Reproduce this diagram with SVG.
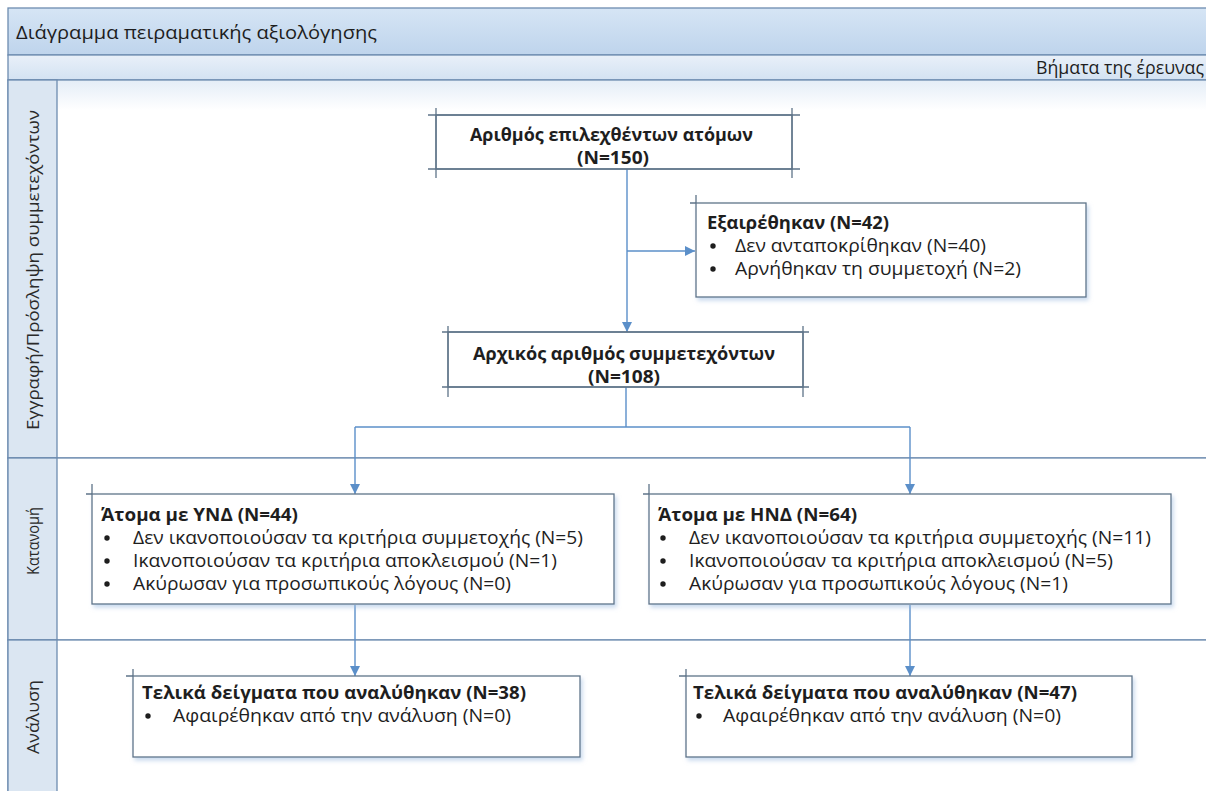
<svg xmlns="http://www.w3.org/2000/svg" width="1206" height="791" viewBox="0 0 1206 791">
<style>
.frame{stroke:#6d8cb0;stroke-width:1.3;}
.lanecol{fill:#dbe6f2;stroke:#6d8cb0;stroke-width:1.3;}
.box{fill:#ffffff;stroke:#5f7489;stroke-width:1.3;}
.tick{stroke:#5f7489;stroke-width:1.3;fill:none;}
.conn{stroke:#5b8fc9;stroke-width:1.4;fill:none;}
.t{font-family:"Open Sans","Liberation Sans",Arial,sans-serif;fill:#1e1e1e;font-size:18px;}
.b{font-weight:bold;}
.dot{fill:#1e1e1e;}
.lbl{font-family:"Open Sans","Liberation Sans",Arial,sans-serif;fill:#2a2a2a;font-size:17px;text-anchor:middle;}
</style>
<defs>
<linearGradient id="gTitle" x1="0" y1="0" x2="0" y2="1">
<stop offset="0" stop-color="#d6e5f5"/><stop offset="1" stop-color="#bed4ec"/>
</linearGradient>
<linearGradient id="gSub" x1="0" y1="0" x2="0" y2="1">
<stop offset="0" stop-color="#e9f0f9"/><stop offset="1" stop-color="#d3e2f2"/>
</linearGradient>
<linearGradient id="gLane" x1="0" y1="0" x2="0" y2="1">
<stop offset="0" stop-color="#e4edf7"/><stop offset="0.08" stop-color="#ffffff"/><stop offset="1" stop-color="#ffffff"/>
</linearGradient>
<filter id="sh" x="-5%" y="-10%" width="112%" height="130%">
<feDropShadow dx="2" dy="3" stdDeviation="2" flood-color="#9dbbe0" flood-opacity="0.55"/>
</filter>
<marker id="arr" viewBox="0 0 10 10" refX="10" refY="5" markerWidth="10" markerHeight="10" markerUnits="userSpaceOnUse" orient="auto">
<path d="M0,0 L10,5 L0,10 z" fill="#5b8fc9"/>
</marker>
</defs>

<g id="pool">
<rect x="8" y="8" width="1210" height="47" fill="url(#gTitle)" class="frame"/>
<text class="t" x="16" y="39" font-size="22" textLength="361" lengthAdjust="spacingAndGlyphs">Διάγραμμα πειραματικής αξιολόγησης</text>
<rect x="8" y="55" width="1210" height="25" fill="url(#gSub)" class="frame"/>
<text class="t" x="1204" y="74" font-size="17" text-anchor="end" textLength="168" lengthAdjust="spacingAndGlyphs">Βήματα της έρευνας</text>
</g>

<g id="lane-1">
<rect x="8" y="80" width="1210" height="378" fill="url(#gLane)" class="frame"/>
<rect x="8" y="80" width="49" height="378" class="lanecol"/>
<text class="lbl" transform="translate(39,270) rotate(-90)" textLength="320" lengthAdjust="spacingAndGlyphs">Εγγραφή/Πρόσληψη συμμετεχόντων</text>
</g>
<g id="lane-2">
<rect x="8" y="458" width="1210" height="182" fill="#ffffff" class="frame"/>
<rect x="8" y="458" width="49" height="182" class="lanecol"/>
<text class="lbl" transform="translate(39,541) rotate(-90)" font-size="18" textLength="68" lengthAdjust="spacingAndGlyphs">Κατανομή</text>
</g>
<g id="lane-3">
<rect x="8" y="640" width="1210" height="160" fill="#ffffff" class="frame"/>
<rect x="8" y="640" width="49" height="160" class="lanecol"/>
<text class="lbl" transform="translate(39,717) rotate(-90)" font-size="18" textLength="74" lengthAdjust="spacingAndGlyphs">Ανάλυση</text>
</g>

<g id="connectors">
<line class="conn" x1="627" y1="169" x2="627" y2="332" marker-end="url(#arr)"/>
<line class="conn" x1="627" y1="251" x2="695" y2="251" marker-end="url(#arr)"/>
<polyline class="conn" points="626,387 626,427"/>
<line class="conn" x1="355" y1="427" x2="910" y2="427"/>
<line class="conn" x1="355" y1="427" x2="355" y2="494" marker-end="url(#arr)"/>
<line class="conn" x1="910" y1="427" x2="910" y2="494" marker-end="url(#arr)"/>
<line class="conn" x1="355" y1="605" x2="355" y2="676" marker-end="url(#arr)"/>
<line class="conn" x1="910" y1="605" x2="910" y2="676" marker-end="url(#arr)"/>
</g>

<g id="n-selected">
<rect class="box" x="436" y="115" width="356" height="54"/>
<path class="tick" d="M428,115 H800 M428,169 H800 M436,108 V178 M792,108 V178"/>
<text class="t b" x="611.5" y="141" text-anchor="middle" textLength="283" lengthAdjust="spacingAndGlyphs">Αριθμός επιλεχθέντων ατόμων</text>
<text class="t b" x="613" y="164" text-anchor="middle" textLength="72" lengthAdjust="spacingAndGlyphs">(N=150)</text>
</g>

<g id="n-excluded">
<rect class="box" x="696" y="203" width="390" height="94" filter="url(#sh)"/>
<path class="tick" d="M690,203 H696 M696,195 V203"/>
<text class="t b" x="707" y="229" textLength="182" lengthAdjust="spacingAndGlyphs">Εξαιρέθηκαν (N=42)</text>
<circle class="dot" cx="713" cy="246" r="2.7"/>
<text class="t" x="735" y="252" textLength="251" lengthAdjust="spacingAndGlyphs">Δεν ανταποκρίθηκαν (N=40)</text>
<circle class="dot" cx="713" cy="269" r="2.7"/>
<text class="t" x="735" y="275" textLength="286" lengthAdjust="spacingAndGlyphs">Αρνήθηκαν τη συμμετοχή (N=2)</text>
</g>

<g id="n-initial">
<rect class="box" x="448" y="332" width="355" height="55"/>
<path class="tick" d="M442,332 H809 M442,387 H809 M448,326 V397 M803,326 V397"/>
<text class="t b" x="624" y="360" text-anchor="middle" textLength="302" lengthAdjust="spacingAndGlyphs">Αρχικός αριθμός συμμετεχόντων</text>
<text class="t b" x="624" y="383" text-anchor="middle" textLength="72" lengthAdjust="spacingAndGlyphs">(N=108)</text>
</g>

<g id="n-ynd">
<rect class="box" x="92" y="494" width="522" height="110" filter="url(#sh)"/>
<path class="tick" d="M86,494 H92 M92,484 V494"/>
<text class="t b" x="101" y="521" textLength="197" lengthAdjust="spacingAndGlyphs">Άτομα με ΥΝΔ (N=44)</text>
<circle class="dot" cx="107" cy="538" r="2.7"/>
<text class="t" x="133" y="544" textLength="450" lengthAdjust="spacingAndGlyphs">Δεν ικανοποιούσαν τα κριτήρια συμμετοχής (N=5)</text>
<circle class="dot" cx="107" cy="561" r="2.7"/>
<text class="t" x="133" y="567" textLength="424" lengthAdjust="spacingAndGlyphs">Ικανοποιούσαν τα κριτήρια αποκλεισμού (N=1)</text>
<circle class="dot" cx="107" cy="584" r="2.7"/>
<text class="t" x="133" y="590" textLength="378" lengthAdjust="spacingAndGlyphs">Ακύρωσαν για προσωπικούς λόγους (N=0)</text>
</g>

<g id="n-hnd">
<rect class="box" x="649" y="494" width="522" height="110" filter="url(#sh)"/>
<path class="tick" d="M643,494 H649 M649,484 V494"/>
<text class="t b" x="658" y="521" textLength="199" lengthAdjust="spacingAndGlyphs">Άτομα με ΗΝΔ (N=64)</text>
<circle class="dot" cx="663" cy="538" r="2.7"/>
<text class="t" x="689" y="544" textLength="462" lengthAdjust="spacingAndGlyphs">Δεν ικανοποιούσαν τα κριτήρια συμμετοχής (N=11)</text>
<circle class="dot" cx="663" cy="561" r="2.7"/>
<text class="t" x="689" y="567" textLength="424" lengthAdjust="spacingAndGlyphs">Ικανοποιούσαν τα κριτήρια αποκλεισμού (N=5)</text>
<circle class="dot" cx="663" cy="584" r="2.7"/>
<text class="t" x="689" y="590" textLength="379" lengthAdjust="spacingAndGlyphs">Ακύρωσαν για προσωπικούς λόγους (N=1)</text>
</g>

<g id="n-final-ynd">
<rect class="box" x="133" y="676" width="447" height="81" filter="url(#sh)"/>
<path class="tick" d="M126,676 H133 M133,669 V676"/>
<text class="t b" x="142" y="699" textLength="384" lengthAdjust="spacingAndGlyphs">Τελικά δείγματα που αναλύθηκαν (N=38)</text>
<circle class="dot" cx="148" cy="716" r="2.7"/>
<text class="t" x="173" y="722" textLength="338" lengthAdjust="spacingAndGlyphs">Αφαιρέθηκαν από την ανάλυση (N=0)</text>
</g>

<g id="n-final-hnd">
<rect class="box" x="686" y="676" width="446" height="81" filter="url(#sh)"/>
<path class="tick" d="M679,676 H686 M686,669 V676"/>
<text class="t b" x="693" y="699" textLength="384" lengthAdjust="spacingAndGlyphs">Τελικά δείγματα που αναλύθηκαν (N=47)</text>
<circle class="dot" cx="699" cy="716" r="2.7"/>
<text class="t" x="723" y="722" textLength="338" lengthAdjust="spacingAndGlyphs">Αφαιρέθηκαν από την ανάλυση (N=0)</text>
</g>
</svg>
